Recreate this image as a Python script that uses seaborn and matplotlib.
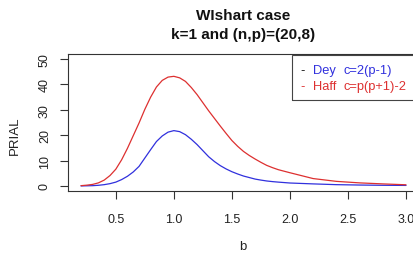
import matplotlib
matplotlib.use("Agg")
import matplotlib.pyplot as plt
from matplotlib.patches import Rectangle
import seaborn as sns
import pandas as pd

# ---- data ----
b_values = [0.2, 0.25, 0.3, 0.35, 0.4, 0.45, 0.5, 0.55, 0.6, 0.65, 0.7, 0.75, 0.8, 0.85,
            0.9, 0.95, 1.0, 1.05, 1.1, 1.15, 1.2, 1.25, 1.3, 1.35, 1.4, 1.45, 1.5, 1.55,
            1.6, 1.65, 1.7, 1.75, 1.8, 1.85, 1.9, 2.0, 2.2, 2.4, 2.6, 2.8, 3.0]
dey_prial = [0.0, 0.05, 0.1, 0.25, 0.5, 0.9, 1.5, 2.5, 3.8, 5.5, 7.7, 11.0, 14.3, 17.5,
             19.7, 21.2, 21.8, 21.4, 20.2, 18.4, 16.3, 13.9, 11.5, 9.6, 8.0, 6.7, 5.6, 4.7,
             3.9, 3.3, 2.7, 2.3, 1.95, 1.7, 1.5, 1.15, 0.8, 0.5, 0.35, 0.25, 0.2]
haff_prial = [0.1, 0.3, 0.6, 1.2, 2.3, 4.1, 6.6, 10.3, 14.8, 19.8, 24.8, 30.2, 35.0, 39.0,
              41.6, 42.9, 43.2, 42.6, 41.2, 38.8, 36.0, 32.8, 29.6, 26.6, 23.6, 20.7, 17.9, 15.6,
              13.6, 12.0, 10.6, 9.3, 8.1, 7.2, 6.4, 5.2, 2.9, 1.8, 1.2, 0.8, 0.45]
series_names = ["Dey", "Haff"]
legend_formulas = ["c=2(p-1)", "c=p(p+1)-2"]
x_ticks = [0.5, 1.0, 1.5, 2.0, 2.5, 3.0]
y_ticks = [0, 10, 20, 30, 40, 50]
title_lines = ["WIshart case", "k=1 and (n,p)=(20,8)"]

df = pd.concat([
    pd.DataFrame({"b": b_values, "PRIAL": dey_prial, "method": series_names[0]}),
    pd.DataFrame({"b": b_values, "PRIAL": haff_prial, "method": series_names[1]}),
])

sns.set_style("white")
plt.rcParams["font.family"] = ["Liberation Sans", "DejaVu Sans"]

W, H = 414, 255
fig = plt.figure(figsize=(W / 100, H / 100), dpi=100)
ax = fig.add_axes([68 / W, (H - 192) / H, (419 - 68) / W, (192 - 55) / H])

sns.lineplot(data=df, x="b", y="PRIAL", hue="method",
             palette={"Dey": "#3030dd", "Haff": "#dd3030"},
             linewidth=0.9, legend=False, ax=ax, sort=False)

ax.set_xlim(0.088, 3.112)
ax.set_ylim(-2, 52)
ax.set_xticks(x_ticks)
ax.set_xticklabels([f"{v:.1f}" for v in x_ticks])
ax.set_yticks(y_ticks)
ax.set_yticklabels([str(v) for v in y_ticks], rotation=90, va="center")
ax.tick_params(axis="both", direction="out", length=6, width=0.8, color="#333333",
               labelsize=9, labelcolor="#222222", left=True, bottom=True)
ax.tick_params(axis="x", pad=9.5)
ax.tick_params(axis="y", pad=6.3)
for s in ax.spines.values():
    s.set_visible(True)
    s.set_color("#333333")
    s.set_linewidth(0.8)
ax.set_xlabel("")
ax.set_ylabel("")

# axis titles and main title
fig.text(243 / W, 1 - 247 / H, "b", ha="center", va="center", fontsize=9.5, color="#222222")
fig.text(15 / W, 1 - 136 / H, "PRIAL", ha="center", va="center", rotation=90,
         fontsize=9.5, color="#222222")
fig.text(243 / W, 1 - 16 / H, title_lines[0], ha="center", va="center",
         fontsize=11, fontweight="bold", color="#111111")
fig.text(243 / W, 1 - 35 / H, title_lines[1], ha="center", va="center",
         fontsize=11, fontweight="bold", color="#111111")

# legend box (R-style, top-right)
fig.patches.append(Rectangle((292 / W, 1 - 101 / H), (430 - 292) / W, (101 - 56) / H,
                             transform=fig.transFigure, fill=False,
                             edgecolor="#444444", linewidth=0.8))
marker_colors = ["#111111", "#dd3030"]
text_colors = ["#3030dd", "#dd3030"]
rows_y = [71, 87]
for name, formula, mc, tc, yy in zip(series_names, legend_formulas, marker_colors, text_colors, rows_y):
    fig.text(303 / W, 1 - yy / H, "-", ha="center", va="center", fontsize=9.3, color=mc)
    fig.text(313 / W, 1 - yy / H, name, ha="left", va="center", fontsize=9.3, color=tc)
    fig.text(344 / W, 1 - yy / H, formula, ha="left", va="center", fontsize=9.3, color=tc)

fig.savefig("out.png", dpi=100)
